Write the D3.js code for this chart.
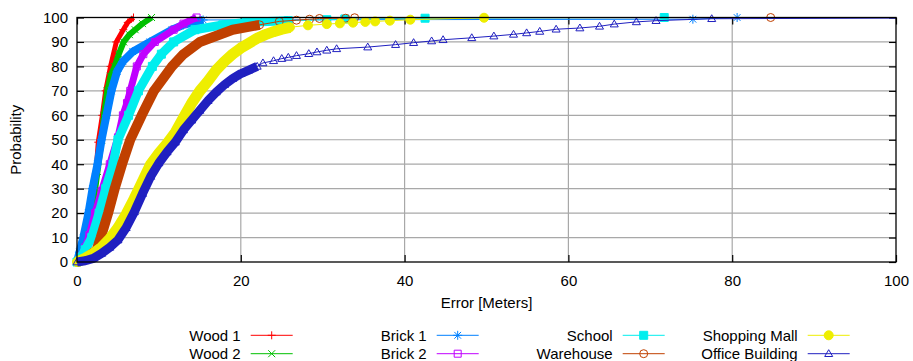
<!DOCTYPE html>
<html>
<head>
<meta charset="utf-8">
<script src="https://cdn.jsdelivr.net/npm/d3@7"></script>
<style>
  body { margin: 0; background: #fff; }
  text { font-family: "Liberation Sans", Arial, Helvetica, sans-serif; font-size: 15px; fill: #000; }
</style>
</head>
<body>
<svg id="chart" width="913" height="361"></svg>
<script>
// values: [error in meters, probability %]
var xTicks = [0, 20, 40, 60, 80, 100];
var yTicks = [0, 10, 20, 30, 40, 50, 60, 70, 80, 90, 100];

var names = ["Wood 1", "Wood 2", "Brick 1", "Brick 2", "School", "Warehouse", "Shopping Mall", "Office Building"];
var colors = ["#ff0000", "#00c000", "#0080ff", "#c000ff", "#00eeee", "#c04000", "#eeee00", "#2020c0"];

var wood1 = [[0,0],[0.5,3],[1,7],[1.5,14],[2,25],[2.3,36],[2.6,49],[3.1,60],[3.5,70],[4.1,80],[4.8,90],[5.65,95],[6.2,98],[6.9,100]];
var wood2 = [[0,0],[0.5,3],[1,7],[1.5,14],[2,24],[2.5,37],[3,50],[3.3,60],[3.7,70],[4.1,76],[4.6,80],[5.1,85],[5.7,90],[6.4,93],[7.1,95],[8,97.5],[9.1,100]];
var brick1 = [[0,0],[0.3,4],[0.77,10],[1.4,20],[1.9,30],[2.5,40],[3,50],[3.6,60],[4.2,70],[4.9,78],[5.6,82],[6.8,86],[8.9,90],[11.6,95],[13,97],[15.4,99],[75.2,99.3],[80.6,100]];
var brick2 = [[0,0],[0.5,2.5],[1,6],[1.5,11],[2.2,20],[3,29],[4,40],[5,51],[5.6,60],[6.1,65],[6.5,70],[7.3,80],[8.1,85],[9.5,90],[11.8,95],[13,97.5],[14.6,100]];
var school = [[0,0],[0.5,2],[1,5],[1.8,10],[2.7,20],[3.5,30],[4.4,40],[5,50],[6.3,60],[7.5,70],[9.2,80],[10.3,85],[11.8,90],[14.4,95],[17.8,97],[20.7,98],[25.8,98.7],[30.5,99.1],[32.7,99.4],[42.5,99.7],[71.7,100]];
var warehouse = [[0,0],[1,1.3],[1.5,2.5],[2.4,5],[2.9,10],[3.8,20],[4.6,30],[5.5,40],[6.5,50],[7.9,60],[9.4,70],[11.6,80],[13,85],[15,90],[19,95],[22.3,97],[24.7,98.4],[26.8,98.9],[28.4,99.3],[29.6,99.6],[32.8,99.7],[33.9,99.9],[84.7,100]];
var mall = [[0,0],[1,1.5],[2,3.5],[3,6],[4,9.5],[5,14],[6,19.5],[7,26],[8,33],[9,40],[10,44.5],[11,48.5],[12,53],[13,59],[14,65],[15,70],[16,74],[17,78.5],[18,82],[19,85],[20,87.5],[21,89.5],[22,91.5],[23,93],[24,94.2],[25,95.2],[26,96],[28.2,96.8],[30.5,97.3],[32.1,97.6],[33.7,97.9],[35.2,98.2],[36.4,98.4],[38.2,98.7],[40.7,99.1],[49.7,99.9]];
var office = [[0,0],[1,0.5],[2,1.5],[3,3.5],[4,6],[5,9],[6,14],[7,20.5],[8,28],[9,35],[10,40.5],[11,45],[12,49],[13,54],[14,58],[15,62],[16,66],[17,69.5],[18,72.5],[19,75],[20,77],[21,78.5],[22,80],[22.7,81.4],[24,82.3],[25,83.2],[25.8,83.7],[26.8,84.4],[28.3,85.2],[29.3,85.9],[30.5,86.6],[31.7,87.2],[35.5,87.9],[38.9,88.9],[41.1,89.7],[43.3,90.4],[44.7,90.9],[48.2,91.7],[50.9,92.4],[53.3,93.1],[54.9,93.7],[56.5,94.3],[58.5,95.2],[61.4,95.7],[63.8,96.4],[65.6,97.3],[68.3,98.2],[70.7,98.7],[77.5,99.5],[104,99.8]];

// up to this error the markers overlap into a solid band
var denseUntil = [6.9, 9.1, 15.4, 14.6, 26, 23, 26, 22];

var svg = d3.select("#chart");
var plotLeft = 77, plotRight = 896, plotTop = 17.5, plotBottom = 262;

var x = d3.scaleLinear().domain([0, 100]).range([plotLeft, plotRight]);
var y = d3.scaleLinear().domain([0, 100]).range([plotBottom, plotTop]);

// marker shapes, gnuplot style
var shapes = {
  plus: { draw: function (c, s) { var r = s / 2; c.moveTo(-r, 0); c.lineTo(r, 0); c.moveTo(0, -r); c.lineTo(0, r); } },
  cross: { draw: function (c, s) { var r = s / 2; c.moveTo(-r, -r); c.lineTo(r, r); c.moveTo(-r, r); c.lineTo(r, -r); } },
  star: { draw: function (c, s) {
    var r = s / 2, q = r * 0.75;
    c.moveTo(-r, 0); c.lineTo(r, 0); c.moveTo(0, -r); c.lineTo(0, r);
    c.moveTo(-q, -q); c.lineTo(q, q); c.moveTo(-q, q); c.lineTo(q, -q);
  } },
  square: { draw: function (c, s) { var r = s / 2; c.rect(-r, -r, s, s); } },
  circle: { draw: function (c, s) { var r = s / 2; c.moveTo(r, 0); c.arc(0, 0, r, 0, 2 * Math.PI); } },
  triangle: { draw: function (c, s) { var r = s / 2; c.moveTo(0, -r); c.lineTo(r, r * 0.7); c.lineTo(-r, r * 0.7); c.closePath(); } }
};

var series = [
  { data: wood1, shape: "plus", filled: false, size: 8, band: 5 },
  { data: wood2, shape: "cross", filled: false, size: 7, band: 6 },
  { data: brick1, shape: "star", filled: false, size: 9, band: 8 },
  { data: brick2, shape: "square", filled: false, size: 7, band: 7 },
  { data: school, shape: "square", filled: true, size: 8, band: 9 },
  { data: warehouse, shape: "circle", filled: false, size: 8, band: 10 },
  { data: mall, shape: "circle", filled: true, size: 9, band: 11 },
  { data: office, shape: "triangle", filled: false, size: 8, band: 9 }
];
series.forEach(function (s, i) {
  s.name = names[i];
  s.color = colors[i];
  s.dense = denseUntil[i];
});

// grid
var grid = svg.append("g").attr("class", "grid")
  .attr("stroke", "#a8a8a8").attr("stroke-width", 1.2);
grid.selectAll("line.v")
  .data(xTicks.filter(function (d) { return d > 0 && d < 100; }))
  .enter().append("line")
  .attr("x1", function (d) { return x(d); }).attr("x2", function (d) { return x(d); })
  .attr("y1", plotTop).attr("y2", plotBottom);
grid.selectAll("line.h")
  .data(yTicks.filter(function (d) { return d > 0 && d < 100; }))
  .enter().append("line")
  .attr("x1", plotLeft).attr("x2", plotRight)
  .attr("y1", function (d) { return y(d); }).attr("y2", function (d) { return y(d); });

// axes with inward ticks
var axisLeft = svg.append("g").attr("transform", "translate(" + plotLeft + ",0)")
  .call(d3.axisLeft(y).tickValues(yTicks).tickSizeInner(-7).tickSizeOuter(0).tickPadding(9));
var axisRight = svg.append("g").attr("transform", "translate(" + plotRight + ",0)")
  .call(d3.axisRight(y).tickValues(yTicks).tickSizeInner(-7).tickSizeOuter(0).tickFormat(""));
var axisBottom = svg.append("g").attr("transform", "translate(0," + plotBottom + ")")
  .call(d3.axisBottom(x).tickValues(xTicks).tickSizeInner(-7).tickSizeOuter(0).tickPadding(13));
var axisTop = svg.append("g").attr("transform", "translate(0," + plotTop + ")")
  .call(d3.axisTop(x).tickValues(xTicks).tickSizeInner(-7).tickSizeOuter(0).tickFormat(""));

[axisLeft, axisRight, axisBottom, axisTop].forEach(function (a) {
  a.select(".domain").remove();
  a.selectAll(".tick line").attr("stroke", "#000").attr("stroke-width", 1.2);
});

svg.append("clipPath").attr("id", "plotclip")
  .append("rect").attr("x", 0).attr("y", 0).attr("width", plotRight).attr("height", 300);

var line = d3.line()
  .x(function (d) { return x(d[0]); })
  .y(function (d) { return y(d[1]); });

var plots = svg.append("g").attr("clip-path", "url(#plotclip)");

series.forEach(function (s) {
  var g = plots.append("g");
  var dense = s.data.filter(function (d) { return d[0] <= s.dense; });

  g.append("path")
    .attr("d", line(dense))
    .attr("fill", "none")
    .attr("stroke", s.color)
    .attr("stroke-width", s.band)
    .attr("stroke-linejoin", "round")
    .attr("stroke-linecap", "butt");

  g.append("path")
    .attr("d", line(s.data))
    .attr("fill", "none")
    .attr("stroke", s.color)
    .attr("stroke-width", 1);

  g.selectAll("path.pt")
    .data(s.data)
    .enter().append("path")
    .attr("class", "pt")
    .attr("transform", function (d) { return "translate(" + x(d[0]) + "," + y(d[1]) + ")"; })
    .attr("d", d3.symbol().type(shapes[s.shape]).size(s.size))
    .attr("fill", s.filled ? s.color : "none")
    .attr("stroke", s.color)
    .attr("stroke-width", 1);
});

// border
svg.append("rect")
  .attr("x", plotLeft).attr("y", plotTop)
  .attr("width", plotRight - plotLeft).attr("height", plotBottom - plotTop)
  .attr("fill", "none").attr("stroke", "#000").attr("stroke-width", 1.3);

// axis titles
svg.append("text")
  .attr("x", (plotLeft + plotRight) / 2).attr("y", 308)
  .attr("text-anchor", "middle")
  .text("Error [Meters]");

svg.append("text")
  .attr("transform", "translate(21," + (plotTop + plotBottom) / 2 + ") rotate(-90)")
  .attr("text-anchor", "middle")
  .text("Probability");

// legend
var colEnds = [240.7, 426.7, 612.7, 797.7];
var rowY = [335.3, 353.7];

var legend = svg.append("g").attr("class", "legend")
  .selectAll("g")
  .data(series)
  .enter().append("g")
  .attr("transform", function (d, i) {
    return "translate(" + colEnds[Math.floor(i / 2)] + "," + rowY[i % 2] + ")";
  });

legend.append("text")
  .attr("text-anchor", "end")
  .attr("dy", "0.35em")
  .text(function (d) { return d.name; });

legend.append("line")
  .attr("x1", 10).attr("x2", 52)
  .attr("stroke", function (d) { return d.color; })
  .attr("stroke-width", 1);

legend.append("path")
  .attr("transform", "translate(31,0)")
  .attr("d", function (d) { return d3.symbol().type(shapes[d.shape]).size(d.size)(); })
  .attr("fill", function (d) { return d.filled ? d.color : "none"; })
  .attr("stroke", function (d) { return d.color; })
  .attr("stroke-width", 1);
</script>
</body>
</html>
